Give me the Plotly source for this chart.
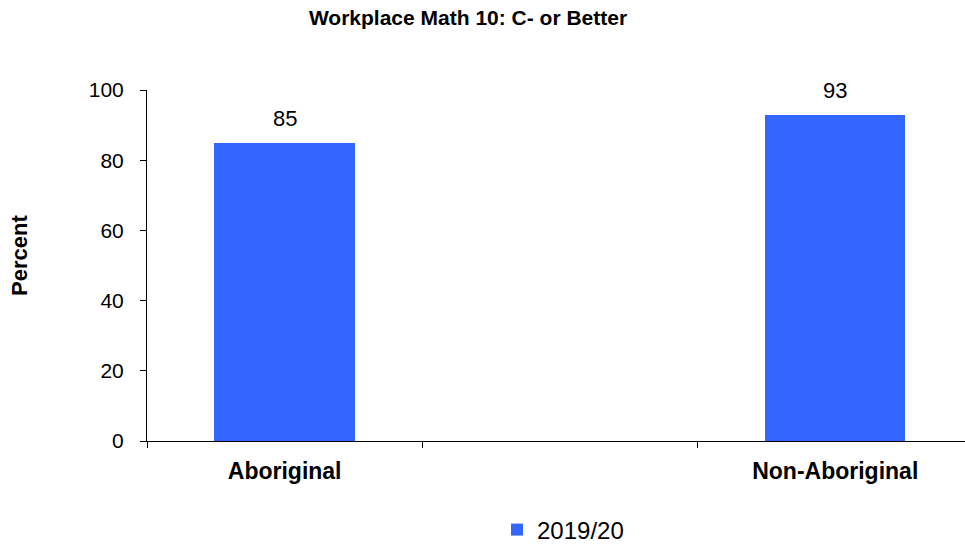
import plotly.graph_objects as go

categories = ["Aboriginal", " ", "Non-Aboriginal"]
values = [85, None, 93]
series_name = "2019/20"
y_ticks = [0, 20, 40, 60, 80, 100]

FONT = "Liberation Sans, Arial"
fig = go.Figure()
fig.add_trace(go.Bar(
    x=categories, y=values, name=series_name,
    marker=dict(color="#3366FF", line=dict(width=0)),
    width=0.51,
))
for c, v in zip(categories, values):
    if v is not None:
        fig.add_annotation(x=c, y=v, text=str(v), showarrow=False, yanchor="bottom",
                           yshift=10, font=dict(size=22, color="black", family=FONT))

W, H = 965, 544
L, T, B = 147, 90, 103
PW, PH = W - L, H - T - B
slot = 275.3
right_val = -0.5 + PW / slot

fig.add_annotation(xref="paper", yref="paper", x=(20 - L) / PW, y=(441 - 256) / PH,
                   text="<b>Percent</b>", textangle=-90, showarrow=False,
                   xanchor="center", yanchor="middle",
                   font=dict(size=22, color="black", family=FONT))

fig.update_layout(
    width=W, height=H,
    margin=dict(l=L, r=0, t=T, b=B),
    plot_bgcolor="white", paper_bgcolor="white",
    font=dict(family=FONT, color="black"),
    title=dict(text="<b>Workplace Math 10: C- or Better</b>", x=468 / W, xanchor="center",
               y=1 - 18 / H, yanchor="middle", font=dict(size=21, color="black")),
    showlegend=True,
    legend=dict(orientation="h", xref="container", yref="container",
                x=497 / W, xanchor="left", y=1 - 530 / H,
                yanchor="middle", font=dict(size=24, color="black"), itemwidth=30),
    bargap=0,
)
fig.update_xaxes(
    type="category", range=[-0.5, right_val], showline=True, linecolor="black", linewidth=1,
    ticks="outside", tickson="boundaries", ticklen=6, tickcolor="black",
    tickfont=dict(size=23, color="black", family=FONT), ticklabelstandoff=9,
    showgrid=False, tickprefix="<b>", ticksuffix="</b>", automargin=False,
)
fig.update_yaxes(
    range=[0, 100], tickvals=y_ticks, showline=True, linecolor="black", linewidth=1,
    ticks="outside", ticklen=6, tickcolor="black", showgrid=False, zeroline=False,
    tickfont=dict(size=21, color="black"), ticklabelstandoff=12, automargin=False,
)
fig.write_html("out.html", config={"displayModeBar": False},
               post_script="document.body.style.margin='0';document.body.style.padding='0';")
